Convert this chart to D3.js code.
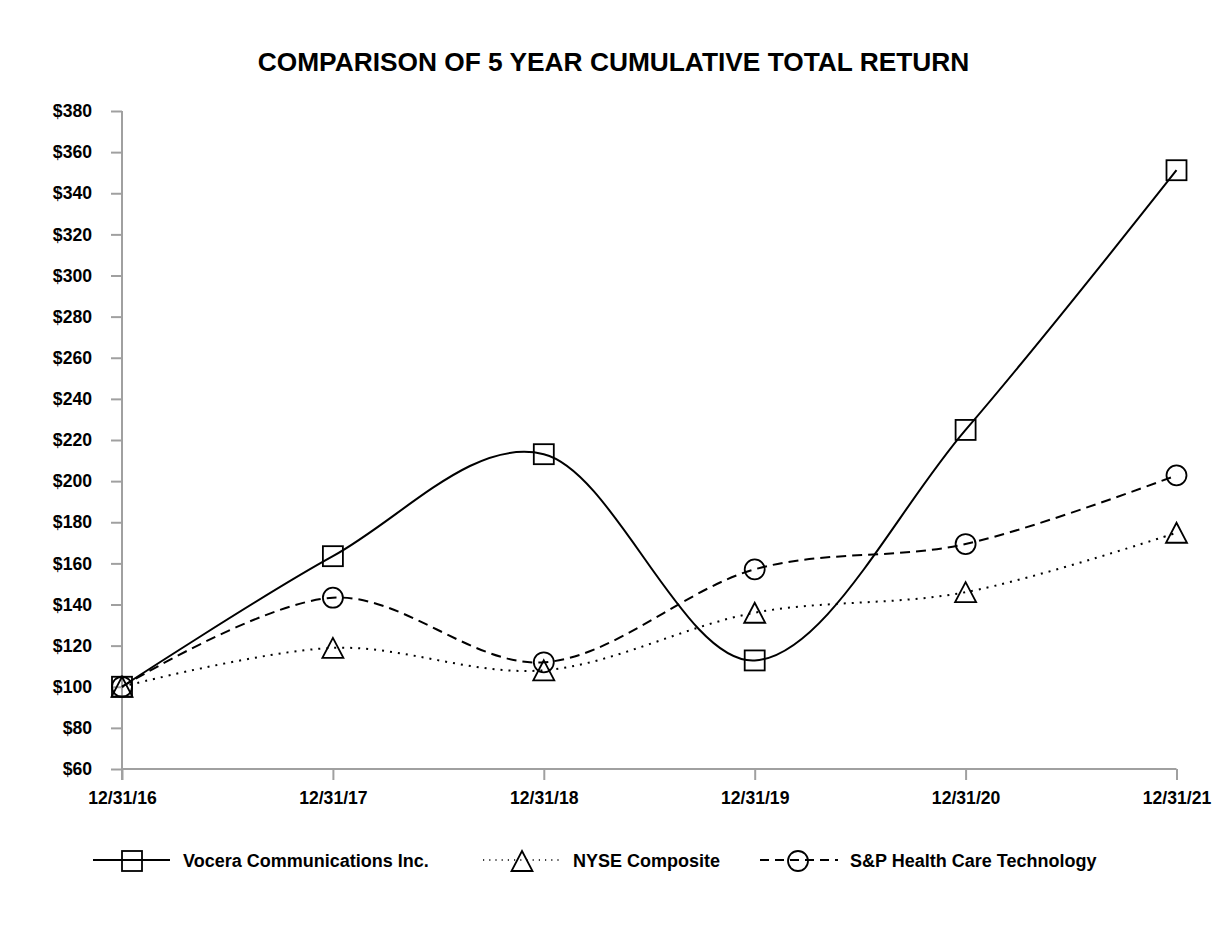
<!DOCTYPE html>
<html>
<head>
<meta charset="utf-8">
<script src="https://cdn.jsdelivr.net/npm/d3@7"></script>
<style>
  html, body { margin: 0; padding: 0; background: #fff; }
  text { font-family: "Liberation Sans", Arial, sans-serif; font-weight: bold; fill: #000; }
</style>
</head>
<body>
<svg id="chart" width="1226" height="936"></svg>
<script>
const title = "COMPARISON OF 5 YEAR CUMULATIVE TOTAL RETURN";
const categories = ["12/31/16", "12/31/17", "12/31/18", "12/31/19", "12/31/20", "12/31/21"];
const yTicks = [60, 80, 100, 120, 140, 160, 180, 200, 220, 240, 260, 280, 300, 320, 340, 360, 380];
const vocera = [100, 163.5, 213.1, 112.8, 224.9, 351.2];
const nyse = [100, 118.9, 108.0, 136.0, 146.0, 174.9];
const spHealth = [100, 143.3, 111.9, 157.1, 169.4, 202.8];
const seriesNames = ["Vocera Communications Inc.", "NYSE Composite", "S&P Health Care Technology"];

const svg = d3.select("#chart");
const plotLeft = 122, plotRight = 1176.5, plotTop = 111, plotBottom = 769;

const x = d3.scaleLinear().domain([0, categories.length - 1]).range([plotLeft, plotRight]);
const y = d3.scaleLinear().domain([60, 380]).range([plotBottom, plotTop]);

// Title
svg.append("text").attr("x", 613.5).attr("y", 70.5).attr("text-anchor", "middle")
  .style("font-size", "26.3px").text(title);

const axisColor = "#a0a0a0";
const tickFont = "17.6px";

// Y axis
const yAxis = d3.axisLeft(y).tickValues(yTicks).tickSize(11).tickPadding(19)
  .tickFormat(d => "$" + d);
const gy = svg.append("g").attr("transform", `translate(${plotLeft},0)`).call(yAxis);
gy.select(".domain").remove();
gy.append("line").attr("x1", 0).attr("x2", 0).attr("y1", plotTop).attr("y2", plotBottom + 11)
  .attr("stroke", axisColor).attr("stroke-width", 2);
gy.selectAll(".tick line").attr("stroke", axisColor).attr("stroke-width", 2);
gy.selectAll(".tick text").style("font-size", tickFont).attr("fill", "#000")
  .style("font-family", '"Liberation Sans", Arial, sans-serif').style("font-weight", "bold");

// X axis
const xAxis = d3.axisBottom(x).tickValues(d3.range(categories.length)).tickSize(11).tickPadding(12)
  .tickFormat(i => categories[i]);
const gx = svg.append("g").attr("transform", `translate(0,${plotBottom})`).call(xAxis);
gx.select(".domain").remove();
gx.append("line").attr("x1", plotLeft).attr("x2", plotRight).attr("y1", 0).attr("y2", 0)
  .attr("stroke", axisColor).attr("stroke-width", 2);
gx.selectAll(".tick line").attr("stroke", axisColor).attr("stroke-width", 2);
gx.selectAll(".tick text").style("font-size", tickFont).attr("fill", "#000")
  .style("font-family", '"Liberation Sans", Arial, sans-serif').style("font-weight", "bold");

const line = d3.line().x((d, i) => x(i)).y(d => y(d)).curve(d3.curveCardinal.tension(0));

const series = [
  { name: seriesNames[0], values: vocera, dash: null, marker: "square" },
  { name: seriesNames[1], values: nyse, dash: "2,6", marker: "triangle" },
  { name: seriesNames[2], values: spHealth, dash: "10,6", marker: "circle" }
];

function drawMarker(g, type, cx, cy) {
  const sw = 1.8;
  if (type === "square") {
    g.append("rect").attr("x", cx - 10).attr("y", cy - 10).attr("width", 20).attr("height", 20)
      .attr("fill", "none").attr("stroke", "#000").attr("stroke-width", sw);
  } else if (type === "circle") {
    g.append("circle").attr("cx", cx).attr("cy", cy).attr("r", 10)
      .attr("fill", "none").attr("stroke", "#000").attr("stroke-width", sw);
  } else {
    g.append("path").attr("d", `M${cx},${cy - 10}L${cx + 10.5},${cy + 10}L${cx - 10.5},${cy + 10}Z`)
      .attr("fill", "none").attr("stroke", "#000").attr("stroke-width", sw).attr("stroke-linejoin", "miter");
  }
}

series.forEach(s => {
  const g = svg.append("g");
  g.append("path").attr("d", line(s.values)).attr("fill", "none").attr("stroke", "#000")
    .attr("stroke-width", 2).attr("stroke-dasharray", s.dash);
  s.values.forEach((v, i) => drawMarker(g, s.marker, x(i), y(v)));
});

// Legend
const legendY = 860;
const legendItems = [
  { x0: 93, x1: 170, mx: 132, tx: 183, dash: null, marker: "square", w: 2 },
  { x0: 483, x1: 560, mx: 522, tx: 573, dash: "1.2,5", marker: "triangle", w: 1.3 },
  { x0: 760, x1: 838, mx: 798, tx: 850, dash: "9,6", marker: "circle", w: 2 }
];
legendItems.forEach((it, k) => {
  const g = svg.append("g");
  g.append("line").attr("x1", it.x0).attr("x2", it.x1).attr("y1", legendY).attr("y2", legendY)
    .attr("stroke", "#000").attr("stroke-width", it.w).attr("stroke-dasharray", it.dash);
  drawMarker(g, it.marker, it.mx, legendY + 1);
  g.append("text").attr("x", it.tx).attr("y", legendY + 6.5).style("font-size", "18px").text(seriesNames[k]);
});
</script>
</body>
</html>
